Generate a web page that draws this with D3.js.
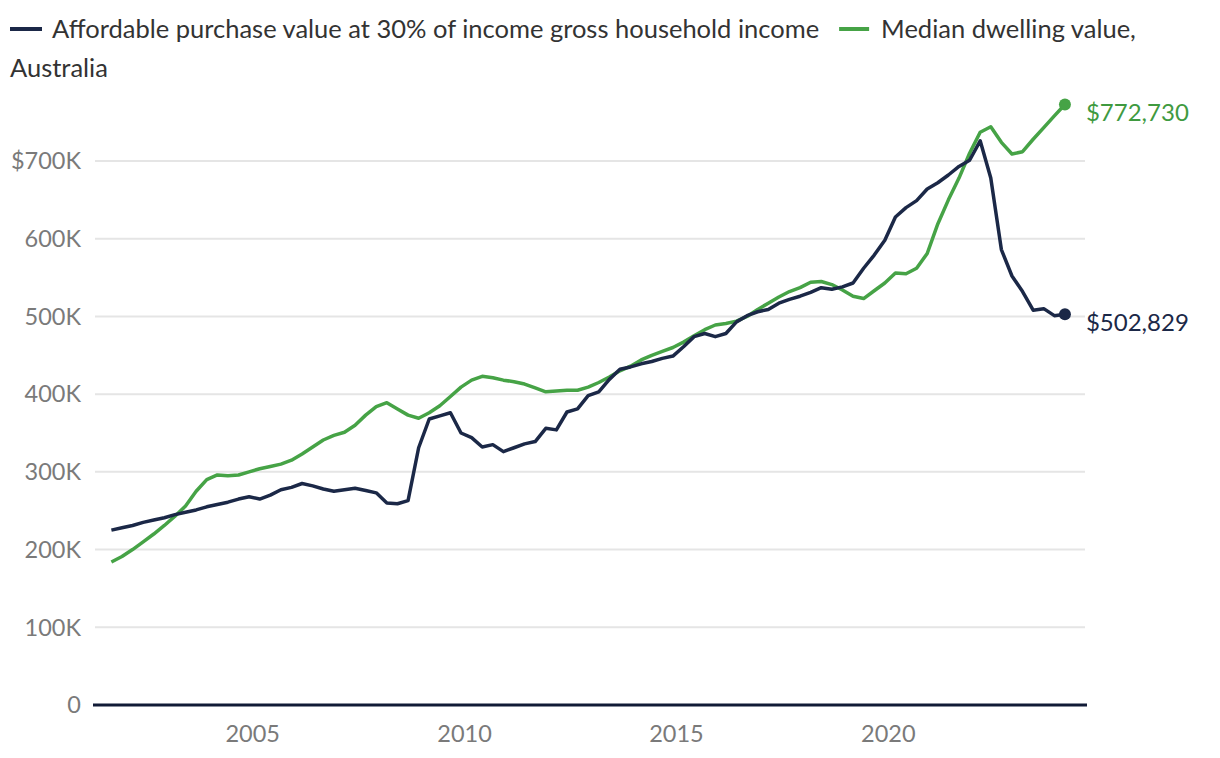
<!DOCTYPE html>
<html>
<head>
<meta charset="utf-8">
<script src="https://cdn.jsdelivr.net/npm/d3@7"></script>
<style>
  body{margin:0;background:#fff;font-family:Lato,"Noto Sans",sans-serif;}
  svg text{font-family:Lato,"Noto Sans",sans-serif;}
</style>
</head>
<body>
<svg id="chart" width="1220" height="758"></svg>
<script>
// quarterly, Sep 2001 .. Mar 2024 (values in $K)
const startYear = 2001 + 8/12;
const affordable = [225,228,231,235,238,241,245,248,251,255,258,261,265,268,265,270,277,280,285,282,
  278,275,277,279,276,273,260,259,263,331,368,372,376,350,344,332,335,326,331,336,
  339,356,354,377,381,398,403,419,432,435,439,442,446,449,461,474,478,474,478,493,
  501,506,509,517,522,526,531,537,535,538,543,562,579,598,628,640,649,664,672,682,
  693,701,726,678,586,552,532,508,510,501,502.829];
const median = [184,191,200,210,220,231,243,256,275,290,296,295,296,300,304,307,310,315,323,332,
  341,347,351,360,373,384,389,381,373,369,376,385,397,409,418,423,421,418,416,413,
  408,403,404,405,405,409,415,422,430,436,444,450,455,460,467,475,483,489,491,494,
  500,509,517,525,532,537,544,545,541,534,526,523,533,543,556,555,562,581,619,650,
  678,710,737,744,724,709,712,728,743,758,772.73];
const xTicks = [2005, 2010, 2015, 2020];
const yTicks = [0, 100, 200, 300, 400, 500, 600, 700];
const seriesNames = ["Affordable purchase value at 30% of income gross household income", "Median dwelling value,"];
const legendWrap = "Australia";

const navy = "#1b2847", green = "#46a346";

const svg = d3.select("#chart");
const x = d3.scaleLinear().domain([2001.28, 2024.64]).range([95, 1085]);
const y = d3.scaleLinear().domain([0, 700]).range([705, 161]);

// gridlines + y labels
svg.append("g").selectAll("line").data(yTicks.filter(d=>d>0)).join("line")
  .attr("x1", x.range()[0]).attr("x2", x.range()[1])
  .attr("y1", d=>y(d)).attr("y2", d=>y(d))
  .attr("stroke", "#e5e5e5").attr("stroke-width", 2);
svg.append("g").selectAll("text").data(yTicks).join("text")
  .attr("x", 81).attr("y", d=>y(d)).attr("dy", "0.35em")
  .attr("text-anchor", "end").attr("fill", "#7a7a7a").attr("font-size", 23.5)
  .text(d=> d===0 ? "0" : (d===700 ? "$" : "") + d + "K");

// x labels
svg.append("g").selectAll("text").data(xTicks).join("text")
  .attr("x", d=>x(d)).attr("y", 742).attr("text-anchor", "middle")
  .attr("fill", "#7a7a7a").attr("font-size", 23.5).text(d=>d);

const line = d3.line().x((d,i)=>x(startYear + i/4)).y(d=>y(d));
svg.append("path").datum(median).attr("d", line).attr("fill","none")
  .attr("stroke", green).attr("stroke-width", 3.5).attr("stroke-linejoin","round");
svg.append("path").datum(affordable).attr("d", line).attr("fill","none")
  .attr("stroke", navy).attr("stroke-width", 3.5).attr("stroke-linejoin","round");

// baseline
svg.append("line").attr("x1", 93).attr("x2", 1087).attr("y1", y(0)).attr("y2", y(0))
  .attr("stroke", "#111b36").attr("stroke-width", 3);

// end dots + labels
const ends = [
  {data: median, color: green, text: "#3f9a3f"},
  {data: affordable, color: navy, text: navy}
];
ends.forEach(e=>{
  const n = e.data.length - 1, v = e.data[n];
  const cx = x(startYear + n/4), cy = y(v);
  svg.append("circle").attr("cx", cx).attr("cy", cy).attr("r", 6).attr("fill", e.color);
  svg.append("text").attr("x", cx + 21).attr("y", cy + 8).attr("dy", "0.35em")
    .attr("fill", e.text).attr("font-size", 24)
    .text("$" + d3.format(",")(Math.round(v*1000)));
});

// legend
const lg = svg.append("g");
lg.append("line").attr("x1", 10).attr("x2", 42).attr("y1", 29).attr("y2", 29)
  .attr("stroke", navy).attr("stroke-width", 4);
const t1 = lg.append("text").attr("x", 52).attr("y", 29).attr("dy", "0.35em")
  .attr("fill", "#333").attr("font-size", 25.5).text(seriesNames[0]);
const w1 = t1.node().getComputedTextLength();
const gx = 52 + w1 + 20;
lg.append("line").attr("x1", gx).attr("x2", gx + 30).attr("y1", 29).attr("y2", 29)
  .attr("stroke", green).attr("stroke-width", 4);
lg.append("text").attr("x", gx + 42).attr("y", 29).attr("dy", "0.35em")
  .attr("fill", "#333").attr("font-size", 25.5).text(seriesNames[1]);
lg.append("text").attr("x", 10).attr("y", 68).attr("dy", "0.35em")
  .attr("fill", "#333").attr("font-size", 25.5).text(legendWrap);
</script>
</body>
</html>
